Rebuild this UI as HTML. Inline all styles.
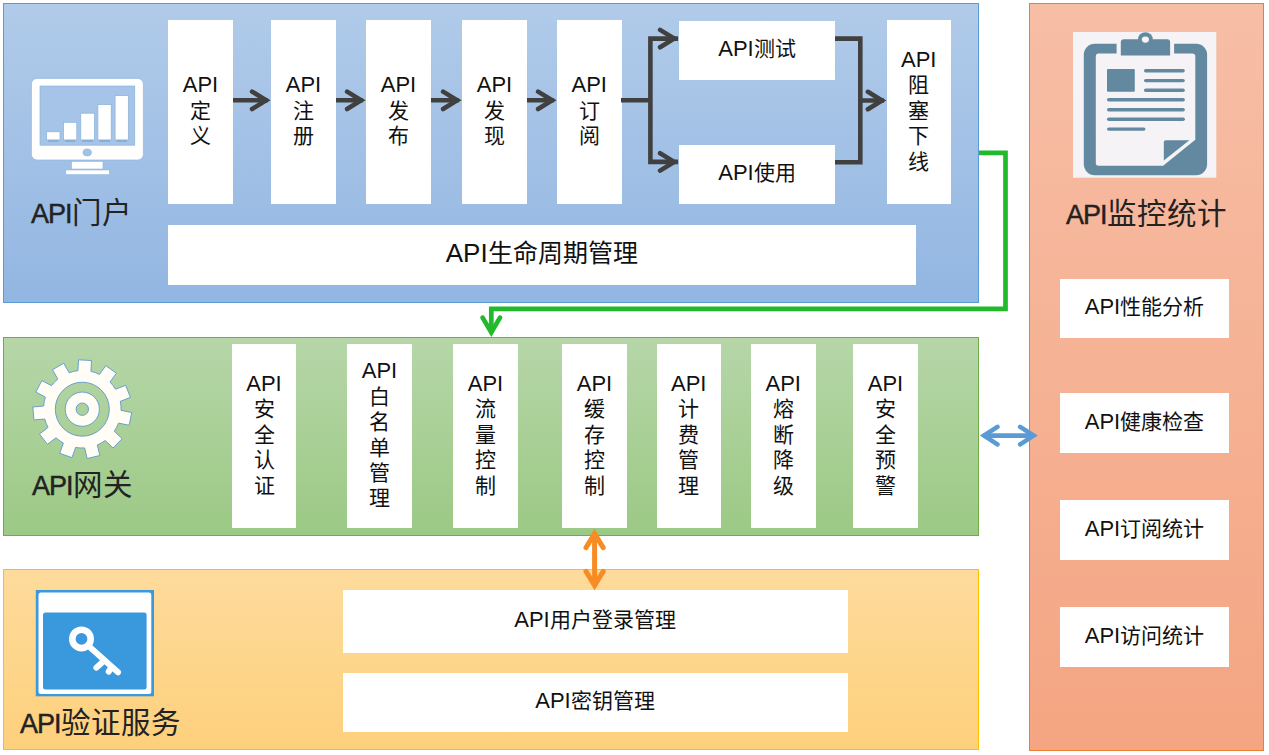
<!DOCTYPE html>
<html lang="zh-CN">
<head>
<meta charset="utf-8">
<style>
html,body{margin:0;padding:0;background:#fff;}
body{width:1269px;height:755px;position:relative;overflow:hidden;font-family:"Liberation Sans",sans-serif;color:#111;}
.sec{position:absolute;box-sizing:border-box;}
#blue{left:3px;top:3px;width:976px;height:300px;border:1px solid #5b9bd5;background:linear-gradient(#b1cbe9,#92b6e2);}
#green{left:3px;top:337px;width:976px;height:199px;border:1px solid #70ad47;background:linear-gradient(#b6d6a8,#9cc985);}
#yellow{left:3px;top:569px;width:976px;height:181px;border:1px solid #ffc000;background:linear-gradient(#fedb9c,#fdd07c);}
#orange{left:1029px;top:3px;width:235px;height:748px;border:1px solid #ed7d31;background:linear-gradient(#f7bea6,#f4a582);}
.w{position:absolute;background:#fff;display:flex;align-items:center;justify-content:center;text-align:center;}
.in{font-size:21px;line-height:25.4px;position:relative;top:-1.5px;white-space:nowrap;}
.a{font-size:22px;}
.big{font-size:25px;}
.big .a{font-size:26px;}
.t{position:absolute;color:#222;white-space:nowrap;line-height:36px;}
.ta{font-size:27px;letter-spacing:-1px;-webkit-text-stroke:0.45px #222;}
.tc{font-size:29.5px;}
svg{position:absolute;left:0;top:0;}
</style>
</head>
<body>
<div id="blue" class="sec"></div>
<div id="green" class="sec"></div>
<div id="yellow" class="sec"></div>
<div id="orange" class="sec"></div>
<div class="w v" style="left:168px;top:20px;width:65px;height:184px;"><div class="in"><span class="a">API</span><br>定<br>义</div></div>
<div class="w v" style="left:271px;top:20px;width:65px;height:184px;"><div class="in"><span class="a">API</span><br>注<br>册</div></div>
<div class="w v" style="left:366px;top:20px;width:65px;height:184px;"><div class="in"><span class="a">API</span><br>发<br>布</div></div>
<div class="w v" style="left:462px;top:20px;width:65px;height:184px;"><div class="in"><span class="a">API</span><br>发<br>现</div></div>
<div class="w v" style="left:557px;top:20px;width:64.5px;height:184px;"><div class="in"><span class="a">API</span><br>订<br>阅</div></div>
<div class="w" style="left:679px;top:20.5px;width:156px;height:59.5px;"><div class="in h"><span class="a">API</span>测试</div></div>
<div class="w" style="left:679px;top:144.5px;width:156px;height:59.5px;"><div class="in h"><span class="a">API</span>使用</div></div>
<div class="w v" style="left:886.5px;top:20px;width:64.5px;height:184px;"><div class="in"><span class="a">API</span><br>阻<br>塞<br>下<br>线</div></div>
<div class="w" style="left:168px;top:224.5px;width:747.5px;height:60.5px;"><div class="in h big"><span class="a">API</span>生命周期管理</div></div>
<div class="t" style="left:31px;top:195px;"><span class="ta">API</span><span class="tc">门户</span></div>
<div class="w v" style="left:232px;top:344px;width:64px;height:184px;"><div class="in"><span class="a">API</span><br>安<br>全<br>认<br>证</div></div>
<div class="w v" style="left:347px;top:344px;width:65px;height:184px;"><div class="in"><span class="a">API</span><br>白<br>名<br>单<br>管<br>理</div></div>
<div class="w v" style="left:453px;top:344px;width:65px;height:184px;"><div class="in"><span class="a">API</span><br>流<br>量<br>控<br>制</div></div>
<div class="w v" style="left:562px;top:344px;width:65px;height:184px;"><div class="in"><span class="a">API</span><br>缓<br>存<br>控<br>制</div></div>
<div class="w v" style="left:656.5px;top:344px;width:64.5px;height:184px;"><div class="in"><span class="a">API</span><br>计<br>费<br>管<br>理</div></div>
<div class="w v" style="left:751px;top:344px;width:64.5px;height:184px;"><div class="in"><span class="a">API</span><br>熔<br>断<br>降<br>级</div></div>
<div class="w v" style="left:853px;top:344px;width:65px;height:184px;"><div class="in"><span class="a">API</span><br>安<br>全<br>预<br>警</div></div>
<div class="t" style="left:32px;top:467px;"><span class="ta">API</span><span class="tc">网关</span></div>
<div class="w" style="left:342.5px;top:590px;width:505px;height:63px;"><div class="in h"><span class="a">API</span>用户登录管理</div></div>
<div class="w" style="left:342.5px;top:672.6px;width:505px;height:59.6px;"><div class="in h"><span class="a">API</span>密钥管理</div></div>
<div class="t" style="left:20px;top:705px;"><span class="ta">API</span><span class="tc">验证服务</span></div>
<div class="t" style="left:1066px;top:196px;"><span class="ta">API</span><span class="tc">监控统计</span></div>
<div class="w" style="left:1059.6px;top:278.6px;width:169.8px;height:59.7px;"><div class="in h"><span class="a">API</span>性能分析</div></div>
<div class="w" style="left:1059.6px;top:393px;width:169.8px;height:59.7px;"><div class="in h"><span class="a">API</span>健康检查</div></div>
<div class="w" style="left:1059.6px;top:500px;width:169.8px;height:59.7px;"><div class="in h"><span class="a">API</span>订阅统计</div></div>
<div class="w" style="left:1059.6px;top:607px;width:169.8px;height:59.6px;"><div class="in h"><span class="a">API</span>访问统计</div></div>
<svg id="arrows" width="1269" height="755" viewBox="0 0 1269 755">
<g stroke="#404040" stroke-width="4.6" fill="none">
<path d="M233 100.3H267.8 M336 100.3H362.8 M431 100.3H458.8 M527 100.3H553.8 M621 100.2H650.4 M678 38.6H650.4V161.9H678 M835 38.6H860.3V162.2H835 M860.3 100.5H884" stroke-linecap="butt" stroke-linejoin="miter"/>
<path d="M252.1 91.6L266.2 100.3L252.1 109.0 M347.1 91.6L361.2 100.3L347.1 109.0 M443.1 91.6L457.2 100.3L443.1 109.0 M538.1 91.6L552.2 100.3L538.1 109.0 M660.1 29.9L674.2 38.6L660.1 47.3 M660.1 153.2L674.2 161.9L660.1 170.6 M867.9 91.8L882.0 100.5L867.9 109.2" stroke-linecap="round" stroke-linejoin="miter" stroke-miterlimit="10"/>
</g><g stroke="#21ba2c" stroke-width="4.7" fill="none" stroke-linejoin="miter">
<path d="M979 152.9H1005.5V308.9H491.3V333" stroke-linecap="butt"/>
<path d="M482.6 317.6L491.3 332.4L500 317.6" stroke-linecap="round" stroke-miterlimit="10"/>
</g><g stroke="#5b9bd5" stroke-width="4.6" fill="none" stroke-linecap="round" stroke-miterlimit="10">
<path d="M983 435.6H1034" stroke-linecap="butt"/>
<path d="M997.4 426.8L984 435.6L997.4 444.4M1020.2 426.8L1033.6 435.6L1020.2 444.4"/>
</g><g stroke="#f78c24" stroke-width="5" fill="none" stroke-linecap="round" stroke-miterlimit="10">
<path d="M594.6 533V586" stroke-linecap="butt"/>
<path d="M586 547.6L594.6 533.6L603.2 547.6M586 571.4L594.6 585.4L603.2 571.4"/>
</g>
<g><rect x="31.4" y="78.4" width="112" height="81.6" rx="5.7" fill="#fff" stroke="#8db8de" stroke-width="0.7"/><rect x="40" y="86" width="94.8" height="59.2" fill="#a6c4e7" stroke="#7fb0d8" stroke-width="0.6"/><rect x="48.2" y="140.2" width="10.3" height="1.6" fill="#7aaad6"/><rect x="46.7" y="131.8" width="13.3" height="8.1" fill="#fff" stroke="#86b3db" stroke-width="0.7"/><rect x="65.1" y="140.2" width="10.2" height="1.6" fill="#7aaad6"/><rect x="63.6" y="122.3" width="13.2" height="17.6" fill="#fff" stroke="#86b3db" stroke-width="0.7"/><rect x="82.3" y="140.2" width="10.6" height="1.6" fill="#7aaad6"/><rect x="80.8" y="113.2" width="13.6" height="26.7" fill="#fff" stroke="#86b3db" stroke-width="0.7"/><rect x="99.4" y="140.2" width="10.3" height="1.6" fill="#7aaad6"/><rect x="97.9" y="104.6" width="13.3" height="35.3" fill="#fff" stroke="#86b3db" stroke-width="0.7"/><rect x="116.6" y="140.2" width="10.2" height="1.6" fill="#7aaad6"/><rect x="115.1" y="95.6" width="13.2" height="44.3" fill="#fff" stroke="#86b3db" stroke-width="0.7"/><ellipse cx="87.2" cy="152.4" rx="4.2" ry="3.5" fill="#a3c2e6" stroke="#7fb0d8" stroke-width="0.6"/><rect x="71.5" y="161.4" width="31.5" height="7.6" fill="#fff" stroke="#8db8de" stroke-width="0.6"/><rect x="65.8" y="170" width="43.6" height="4.7" fill="#fff" stroke="#8db8de" stroke-width="0.6"/></g>
<g><rect x="1073" y="32" width="143.3" height="145.7" fill="#f5f3f5"/><rect x="1083.8" y="43.8" width="123.3" height="131.5" rx="11" fill="#62899f"/><path d="M1098.5 53.4H1192.3Q1195.3 53.4 1195.3 56.4V139.8L1163.1 165.7H1098.5Q1095.8 165.7 1095.8 163V56.4Q1095.8 53.4 1098.5 53.4Z" fill="#f5f3f5"/><rect x="1116.6" y="42" width="57.5" height="12" fill="#f5f3f5"/><path d="M1120.8 55.6V42.3Q1120.8 39.3 1123.8 39.3H1167.1Q1170.1 39.3 1170.1 42.3V55.6Z" fill="#62899f"/><circle cx="1145.4" cy="39.6" r="7.4" fill="#62899f"/><ellipse cx="1145.4" cy="39.6" rx="3.6" ry="3.1" fill="#f5f3f5"/><rect x="1107" y="69" width="27.8" height="22.8" rx="1" fill="#62899f"/><g stroke="#62899f" stroke-width="3.4" stroke-linecap="round"><path d="M1145.7 70.8H1183.1"/><path d="M1145.7 80.6H1183.1"/><path d="M1145.7 90.3H1183.1"/><path d="M1108.7 99.8H1183.2"/><path d="M1108.7 109.7H1183.2"/><path d="M1108.7 119.3H1183.2"/><path d="M1108.7 129.1H1143.8"/></g><path d="M1165.8 140.2H1189.3L1163.8 160.6V142.2Q1163.8 140.2 1165.8 140.2Z" fill="#62899f"/></g>
<path d="M77.95 370.65L78.55 359.81L91.53 360.54L90.93 371.37A38.8 38.8 0 0 1 99.48 374.41L105.85 365.63L116.37 373.25L110.01 382.04A38.8 38.8 0 0 1 115.56 389.22L125.67 385.27L130.40 397.38L120.29 401.33A38.8 38.8 0 0 1 121.08 410.38L131.72 412.52L129.15 425.26L118.52 423.12A38.8 38.8 0 0 1 114.29 431.16L122.08 438.71L113.03 448.04L105.24 440.49A38.8 38.8 0 0 1 97.34 444.97L99.81 455.53L87.15 458.49L84.68 447.93A38.8 38.8 0 0 1 75.62 447.42L71.98 457.64L59.73 453.29L63.37 443.07A38.8 38.8 0 0 1 56.01 437.74L47.43 444.37L39.48 434.09L48.06 427.45A38.8 38.8 0 0 1 44.76 419.00L33.95 419.94L32.82 406.99L43.63 406.05A38.8 38.8 0 0 1 45.42 397.14L35.82 392.09L41.87 380.59L51.47 385.64A38.8 38.8 0 0 1 57.79 379.12L52.45 369.68L63.76 363.27L69.10 372.71A38.8 38.8 0 0 1 77.95 370.65ZM109.30 409.2A27.0 27.0 0 1 0 55.30 409.2A27.0 27.0 0 1 0 109.30 409.2ZM99.40 409.2A17.1 17.1 0 1 1 65.20 409.2A17.1 17.1 0 1 1 99.40 409.2ZM88.50 409.2A6.2 6.2 0 1 0 76.10 409.2A6.2 6.2 0 1 0 88.50 409.2Z" fill="#fffdf6" fill-rule="evenodd" stroke="#5d97cf" stroke-width="0.9"/>
<g><rect x="35.8" y="590" width="118.2" height="106.3" fill="#3a98dc"/><rect x="38.5" y="592.4" width="112.8" height="101.7" rx="2.5" fill="#fff"/><rect x="43" y="612.6" width="103.6" height="77" rx="2.5" fill="#3a98dc"/><g stroke="#fff" fill="none" stroke-linecap="round"><circle cx="81.5" cy="638.9" r="9.2" stroke-width="6.6"/><path d="M88 645.6L118 672.2M102.3 662.2L96.4 667.6M110.6 668.4L108.7 671.6" stroke-width="6"/></g></g>
</svg>
</body>
</html>
